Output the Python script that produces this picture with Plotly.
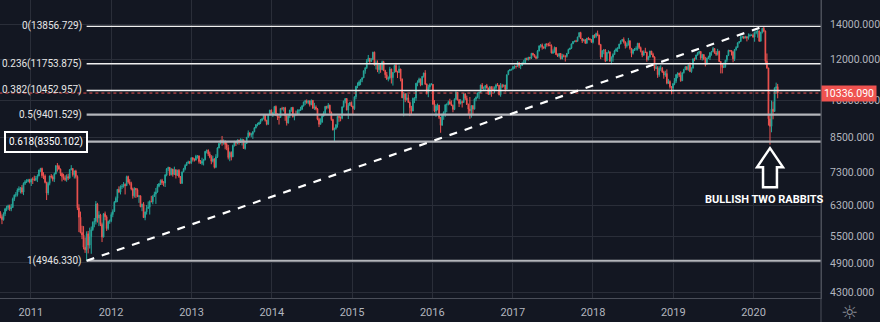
import numpy as np
import pandas as pd
import plotly.graph_objects as go

# ---------------- weekly OHLC (open = previous week's close) ----------------
first_open = 6110

week_start = {
    2010: "2010-08-16", 2011: "2011-01-03", 2012: "2012-01-02", 2013: "2013-01-07",
    2014: "2014-01-06", 2015: "2015-01-05", 2016: "2016-01-04", 2017: "2017-01-02",
    2018: "2018-01-01", 2019: "2019-01-07", 2020: "2020-01-06",
}

close_2010 = [6005, 5925, 6080, 6210, 6250, 6300, 6210, 6250, 6490, 6600, 6610, 6750, 6780, 6820, 6690, 6950, 7000, 7010, 7060, 6990]
high_2010 = [6150, 6060, 6120, 6240, 6300, 6330, 6330, 6350, 6530, 6620, 6690, 6800, 6860, 6840, 6900, 6980, 7050, 7080, 7090, 7090]
low_2010 = [5960, 5810, 5900, 6020, 6150, 6180, 6160, 6150, 6240, 6430, 6540, 6560, 6690, 6650, 6640, 6600, 6900, 6960, 6980, 6950]

close_2011 = [7080, 7075, 7060, 7100, 7180, 7370, 7420, 7190, 7180, 6980, 6660, 6950, 7180, 7150, 7080, 7250, 7510, 7490, 7400, 7260, 7160, 7110, 7070, 7160, 7120, 7380, 7420, 7220, 7340, 7160, 6240, 5990, 5600, 5540, 5250, 5190, 5570, 5300, 5500, 5670, 5860, 5880, 6350, 5970, 6050, 5800, 5490, 6080, 6000, 5700, 5880, 5900]
high_2011 = [7100, 7140, 7190, 7180, 7230, 7380, 7440, 7450, 7300, 7230, 7000, 7000, 7190, 7240, 7200, 7290, 7530, 7600, 7540, 7420, 7290, 7250, 7200, 7230, 7250, 7400, 7530, 7430, 7350, 7380, 7200, 6340, 6140, 5770, 5760, 5480, 5630, 5640, 5720, 5750, 5880, 5970, 6430, 6380, 6150, 6080, 5850, 6100, 6140, 6040, 5900, 5930]
low_2011 = [6870, 6930, 7020, 7020, 6990, 7170, 7310, 7120, 7080, 6950, 6460, 6600, 6890, 7100, 7010, 6990, 7230, 7320, 7380, 7180, 7010, 7060, 7020, 7000, 7050, 7090, 7360, 7160, 7100, 7100, 6180, 5610, 5580, 5440, 5200, 5120, 4946.33, 5110, 5220, 5100, 5640, 5730, 5800, 5850, 5760, 5760, 5370, 5480, 5910, 5640, 5660, 5820]

close_2012 = [6060, 6140, 6400, 6510, 6770, 6690, 6850, 6860, 6920, 6880, 7160, 6990, 6950, 6780, 6580, 6800, 6760, 6560, 6580, 6270, 6340, 5980, 6130, 6230, 6260, 6420, 6410, 6560, 6630, 6690, 6860, 6940, 7040, 6970, 6960, 7210, 7410, 7450, 7220, 7400, 7230, 7380, 7200, 7360, 7160, 6950, 7310, 7410, 7520, 7590, 7640, 7610, 7780]
high_2012 = [6120, 6200, 6430, 6560, 6780, 6860, 6890, 6930, 6990, 6950, 7190, 7190, 7080, 7000, 6820, 6830, 6810, 6800, 6600, 6590, 6360, 6400, 6140, 6320, 6420, 6450, 6580, 6600, 6700, 6810, 6930, 6960, 7070, 7090, 7020, 7240, 7430, 7480, 7470, 7430, 7410, 7480, 7390, 7380, 7400, 7180, 7320, 7440, 7560, 7640, 7680, 7670, 7790]
low_2012 = [5860, 5990, 6130, 6390, 6400, 6660, 6620, 6780, 6820, 6620, 6870, 6940, 6890, 6740, 6500, 6530, 6520, 6540, 6380, 6260, 6150, 5970, 5910, 6060, 6210, 6060, 6400, 6340, 6550, 6350, 6670, 6830, 6900, 6900, 6860, 6840, 7170, 7330, 7180, 7200, 7160, 7210, 7100, 7180, 7120, 6940, 6940, 7300, 7360, 7510, 7580, 7560, 7570]

close_2013 = [7720, 7700, 7830, 7840, 7650, 7590, 7660, 7710, 8000, 8040, 7910, 7800, 7660, 7740, 7460, 7810, 8120, 8280, 8400, 8310, 8350, 8250, 8130, 7790, 7960, 7810, 8210, 8330, 8300, 8410, 8340, 8380, 8420, 8100, 8280, 8510, 8680, 8600, 8620, 8720, 8870, 9000, 9010, 9080, 9170, 9230, 9400, 9170, 9010, 9400, 9590, 9430]
high_2013 = [7790, 7760, 7880, 7870, 7860, 7700, 7780, 7740, 8010, 8060, 8070, 7990, 7870, 7850, 7760, 7900, 8150, 8300, 8410, 8560, 8430, 8400, 8340, 8230, 8000, 8000, 8240, 8380, 8350, 8430, 8420, 8470, 8460, 8430, 8330, 8520, 8770, 8690, 8680, 8740, 8900, 9010, 9070, 9110, 9220, 9250, 9420, 9420, 9190, 9410, 9600, 9620]
low_2013 = [7650, 7650, 7680, 7750, 7580, 7570, 7530, 7520, 7690, 7930, 7840, 7760, 7560, 7620, 7420, 7430, 7770, 8110, 8250, 8200, 8240, 8070, 8040, 7720, 7660, 7690, 7800, 8170, 8190, 8250, 8240, 8300, 8210, 8090, 8060, 8270, 8490, 8540, 8510, 8450, 8700, 8850, 8930, 8980, 9020, 9130, 9210, 9120, 8970, 8990, 9390, 9390]

close_2014 = [9470, 9740, 9390, 9310, 9290, 9660, 9650, 9690, 9350, 9060, 9340, 9590, 9700, 9320, 9410, 9400, 9560, 9580, 9630, 9770, 9940, 9990, 9910, 9990, 9820, 10010, 9670, 9720, 9640, 9210, 9010, 9090, 9340, 9470, 9750, 9690, 9800, 9490, 9200, 8790, 8850, 8990, 9330, 9290, 9250, 9730, 9980, 10090, 9590, 9790, 9920, 9760]
high_2014 = [9520, 9770, 9790, 9450, 9340, 9680, 9730, 9720, 9730, 9400, 9380, 9600, 9720, 9730, 9440, 9570, 9620, 9630, 9730, 9800, 9950, 10030, 10050, 10010, 10000, 10050, 10020, 9900, 9790, 9680, 9270, 9250, 9380, 9540, 9760, 9770, 9890, 9820, 9530, 9230, 8880, 9020, 9350, 9360, 9330, 9740, 9990, 10100, 10110, 9890, 9940, 9960]
low_2014 = [9300, 9450, 9350, 9180, 9000, 9270, 9580, 9530, 9150, 8960, 9040, 9260, 9520, 9280, 9170, 9360, 9380, 9420, 9560, 9590, 9740, 9800, 9860, 9840, 9740, 9800, 9640, 9600, 9580, 9170, 8900, 9000, 9080, 9320, 9400, 9620, 9650, 9440, 9150, 8770, 8355, 8800, 8880, 9110, 9130, 9210, 9700, 9880, 9580, 9220, 9780, 9720]

close_2015 = [9650, 10170, 10650, 10690, 10850, 10960, 11050, 11400, 11550, 11900, 12040, 11870, 11970, 12370, 11690, 11810, 11450, 11710, 11450, 11860, 11410, 11200, 11000, 11040, 11490, 11060, 11320, 11670, 11350, 11310, 11490, 10990, 10120, 10300, 10040, 10120, 9920, 9690, 9550, 10100, 10110, 10790, 10850, 10990, 10710, 11120, 11290, 10750, 10340, 10610, 10730, 10740]
high_2015 = [9770, 10190, 10660, 10830, 10920, 10990, 11080, 11410, 11570, 12000, 12220, 12050, 12050, 12390, 12400, 11930, 11930, 11730, 11740, 11920, 11910, 11450, 11340, 11120, 11600, 11500, 11330, 11710, 11800, 11400, 11670, 11500, 11020, 10380, 10330, 10330, 10280, 9960, 9770, 10130, 10140, 10800, 10930, 11060, 11020, 11130, 11300, 11430, 10780, 10720, 10790, 10800]
low_2015 = [9380, 9600, 10060, 10560, 10670, 10700, 10840, 11040, 11250, 11490, 11860, 11780, 11850, 11960, 11660, 11470, 11330, 11250, 11300, 11430, 11380, 11040, 10950, 10880, 10970, 10780, 10680, 11310, 11330, 11040, 11300, 10880, 10110, 9330, 9930, 10000, 9900, 9340, 9390, 9540, 9890, 9990, 10650, 10800, 10650, 10700, 11060, 10710, 10270, 10150, 10500, 10690]

close_2016 = [9850, 9550, 9760, 9800, 9290, 8970, 9390, 9510, 9820, 9830, 9950, 9850, 9790, 9620, 10050, 10370, 10040, 9870, 9950, 9920, 10290, 10100, 9830, 9630, 9560, 9780, 9630, 10070, 10150, 10340, 10370, 10710, 10540, 10590, 10680, 10570, 10280, 10630, 10510, 10490, 10580, 10710, 10700, 10260, 10670, 10660, 10700, 10510, 11200, 11400, 11450, 11480]
high_2016 = [10750, 10020, 9830, 9870, 9810, 9300, 9450, 9530, 9830, 9880, 10000, 10080, 10010, 9820, 10100, 10420, 10380, 10060, 10060, 10000, 10330, 10330, 10220, 9870, 10160, 9800, 9800, 10100, 10180, 10350, 10400, 10720, 10800, 10640, 10700, 10760, 10580, 10660, 10640, 10650, 10640, 10770, 10800, 10710, 10800, 10760, 10730, 10720, 11210, 11430, 11490, 11490]
low_2016 = [9810, 9500, 9310, 9580, 9220, 8680, 8960, 9190, 9310, 9500, 9790, 9820, 9760, 9500, 9590, 10030, 10000, 9720, 9830, 9700, 9900, 10020, 9810, 9400, 9230, 9280, 9370, 9620, 9970, 10100, 10060, 10340, 10520, 10430, 10480, 10550, 10260, 10270, 10170, 10440, 10330, 10450, 10650, 10230, 10170, 10570, 10600, 10400, 10500, 11190, 11380, 11410]

close_2017 = [11600, 11630, 11620, 11810, 11650, 11670, 11760, 11800, 12030, 11960, 12100, 12060, 12310, 12230, 12110, 12050, 12440, 12720, 12770, 12640, 12600, 12820, 12810, 12750, 12730, 12330, 12390, 12630, 12240, 12160, 12300, 12010, 12170, 12160, 12140, 12300, 12520, 12590, 12830, 12960, 12990, 12980, 13220, 13480, 13130, 13000, 13060, 12860, 13150, 13100, 13070, 12920]
high_2017 = [11640, 11670, 11650, 11890, 11830, 11700, 11860, 11960, 12070, 12080, 12110, 12110, 12320, 12330, 12260, 12180, 12490, 12730, 12820, 12850, 12690, 12840, 12860, 12890, 12950, 12800, 12520, 12680, 12640, 12300, 12310, 12320, 12280, 12250, 12200, 12330, 12560, 12610, 12840, 12990, 13000, 13060, 13240, 13490, 13530, 13150, 13120, 13110, 13170, 13230, 13160, 13090]
low_2017 = [11460, 11500, 11510, 11600, 11540, 11480, 11650, 11750, 11790, 11940, 11930, 11970, 12000, 12180, 12090, 11990, 12040, 12410, 12620, 12510, 12560, 12530, 12670, 12690, 12700, 12300, 12270, 12340, 12220, 12110, 12080, 11990, 11990, 12090, 11870, 12080, 12290, 12500, 12540, 12820, 12920, 12920, 12950, 13220, 13110, 12880, 12980, 12850, 12850, 13040, 13030, 12900]

close_2018 = [13320, 13250, 13430, 13340, 12790, 12110, 12450, 12480, 11910, 12350, 12390, 11890, 12100, 12240, 12440, 12540, 12580, 12820, 13000, 13080, 12940, 12720, 12770, 13010, 12580, 12310, 12500, 12540, 12560, 12860, 12620, 12420, 12210, 12390, 12360, 11960, 12120, 12430, 12250, 12110, 11520, 11550, 11200, 11520, 11530, 11340, 11190, 11260, 10790, 10870, 10630, 10560, 10770]
high_2018 = [13340, 13380, 13480, 13600, 13350, 12830, 12480, 12540, 12540, 12380, 12480, 12400, 12140, 12310, 12500, 12610, 12640, 12830, 13030, 13110, 13200, 12980, 12900, 13170, 13020, 12600, 12540, 12600, 12690, 12890, 12890, 12680, 12450, 12470, 12610, 12400, 12170, 12450, 12440, 12340, 12150, 11750, 11630, 11630, 11680, 11590, 11400, 11400, 11470, 11000, 10930, 10660, 10800]
low_2018 = [12850, 13150, 13160, 13270, 12750, 12000, 12100, 12260, 11840, 11890, 12300, 11860, 11730, 11860, 12230, 12390, 12380, 12540, 12810, 12960, 12850, 12570, 12620, 12740, 12500, 12100, 12240, 12430, 12450, 12460, 12540, 12360, 12100, 12180, 12330, 11860, 11940, 12070, 12220, 12080, 11400, 11480, 11050, 11100, 11400, 11290, 11010, 11100, 10740, 10760, 10540, 10280, 10390]

close_2019 = [10890, 11210, 11280, 11180, 10910, 11300, 11460, 11600, 11460, 11690, 11360, 11530, 12010, 12000, 12220, 12320, 12410, 12060, 12240, 12010, 11730, 12050, 12100, 12340, 12400, 12570, 12320, 12260, 12420, 11870, 11690, 11560, 11610, 11940, 12190, 12470, 12460, 12380, 12010, 12510, 12630, 12890, 12960, 13230, 13240, 13160, 13240, 13170, 13280, 13320, 13340, 13220]
high_2019 = [11040, 11230, 11320, 11300, 11370, 11320, 11500, 11630, 11640, 11720, 11820, 11570, 12040, 12080, 12230, 12380, 12440, 12420, 12280, 12250, 12120, 12070, 12180, 12380, 12440, 12660, 12590, 12430, 12550, 12450, 11900, 11750, 11820, 11960, 12200, 12500, 12480, 12470, 12440, 12540, 12700, 12910, 12990, 13300, 13300, 13290, 13290, 13250, 13430, 13420, 13360, 13430]
low_2019 = [10700, 10800, 11030, 11090, 10860, 10900, 11260, 11430, 11420, 11400, 11330, 11300, 11520, 11890, 11970, 12180, 12250, 11960, 11920, 11940, 11620, 11720, 12000, 11950, 12180, 12390, 12290, 12170, 12190, 11850, 11270, 11270, 11540, 11550, 11830, 12160, 12370, 12190, 11830, 11900, 12450, 12610, 12850, 12950, 13140, 13100, 13150, 12970, 13070, 13250, 13280, 13180]

close_2020 = [13480, 13530, 13580, 12980, 13510, 13740, 13580, 11890, 11540, 9230, 8930, 9630, 9530, 10560, 10630, 10336.09]
high_2020 = [13550, 13600, 13640, 13600, 13520, 13760, 13856.729, 13600, 12300, 11550, 9400, 10000, 9960, 10600, 10820, 10760]
low_2020 = [12950, 13380, 13180, 12950, 12970, 13430, 13500, 11720, 11500, 8960, 8240, 8700, 9210, 9520, 10300, 10100]

# Fibonacci retracement between the 2011 low and the 2020 high
fib_ratio = [0, 0.236, 0.382, 0.5, 0.618, 1]
fib_price = [13856.729, 11753.875, 10452.957, 9401.529, 8350.102, 4946.330]

y_ticks = [4300, 4900, 5500, 6300, 7300, 8500, 10000, 12000, 14000]
x_years = list(range(2011, 2021))

# ---------------- assemble series ----------------
by_year = [
    (2010, close_2010, high_2010, low_2010), (2011, close_2011, high_2011, low_2011),
    (2012, close_2012, high_2012, low_2012), (2013, close_2013, high_2013, low_2013),
    (2014, close_2014, high_2014, low_2014), (2015, close_2015, high_2015, low_2015),
    (2016, close_2016, high_2016, low_2016), (2017, close_2017, high_2017, low_2017),
    (2018, close_2018, high_2018, low_2018), (2019, close_2019, high_2019, low_2019),
    (2020, close_2020, high_2020, low_2020),
]
dates, closes, highs, lows = [], [], [], []
for yr, c, h, l in by_year:
    dates += list(pd.date_range(week_start[yr], periods=len(c), freq="7D"))
    closes += c
    highs += h
    lows += l
opens = [first_open] + closes[:-1]

i_low = int(np.argmin(lows))
i_high = int(np.argmax(highs))
low_date, high_date = dates[i_low], dates[i_high]
last_close = closes[-1]

# ---------------- geometry / colours ----------------
BG = "#131722"
GRID = "#2a2e39"
AXIS_TXT = "#b2b5be"
UP, DOWN = "#26a69a", "#ef5350"
FONT = "Roboto"

PLOT_W, PLOT_H = 826, 298
x_lo, x_hi = pd.Timestamp("2010-08-14"), pd.Timestamp("2020-11-03")
y_lo, y_hi = 3.62324, 4.19193
far_right = pd.Timestamp("2021-06-01")


def px_x(d):
    return (pd.Timestamp(d) - x_lo) / (x_hi - x_lo) * PLOT_W


def px_y(p):
    return (y_hi - np.log10(p)) / (y_hi - y_lo) * PLOT_H


def paper(px, py):
    return px / PLOT_W, 1 - py / PLOT_H


fig = go.Figure()

fig.add_trace(go.Candlestick(
    x=dates, open=opens, high=highs, low=lows, close=closes,
    increasing=dict(line=dict(color=UP, width=1), fillcolor=UP),
    decreasing=dict(line=dict(color=DOWN, width=1), fillcolor=DOWN),
    whiskerwidth=0, hoverinfo="skip", showlegend=False,
))

# last price line
fig.add_trace(go.Scatter(
    x=[x_lo - pd.Timedelta(days=30), far_right], y=[last_close, last_close],
    mode="lines", line=dict(color=DOWN, width=1, dash="dot"),
    hoverinfo="skip", showlegend=False,
))

# fib levels
for r, p in zip(fib_ratio, fib_price):
    bright = r < 0.45
    fig.add_trace(go.Scatter(
        x=[low_date, far_right], y=[p, p], mode="lines",
        line=dict(color="#f0f0f0" if bright else "#b4b6bb", width=1.4 if bright else 2.2),
        hoverinfo="skip", showlegend=False,
    ))

# trend line from the swing low to the swing high
fig.add_trace(go.Scatter(
    x=[low_date, high_date], y=[lows[i_low], highs[i_high]], mode="lines",
    line=dict(color="#ffffff", width=2.2, dash="8px,8px"),
    hoverinfo="skip", showlegend=False,
))

annotations = []
for r, p in zip(fib_ratio, fib_price):
    boxed = abs(r - 0.618) < 1e-9
    a = dict(
        x=low_date, xref="x", y=np.log10(p), yref="y",
        text=f"{r:g}({p:.3f})", showarrow=False,
        xanchor="right", yanchor="middle",
        font=dict(family=FONT, size=10, color="#e6e6e6" if not boxed else "#ffffff"),
        xshift=-3,
    )
    if boxed:
        a.update(bordercolor="#ffffff", borderwidth=2, borderpad=3, xshift=1)
    annotations.append(a)

# last price tag on the axis
annotations.append(dict(
    x=1, xref="paper", y=np.log10(last_close), yref="y",
    text=f"{last_close:.3f}", showarrow=False, xanchor="left", yanchor="middle",
    bgcolor=DOWN, width=54, height=15, borderpad=0,
    font=dict(family=FONT, size=10.5, color="#ffffff"),
))

# arrow pointing at the March 2020 bottom
i_bottom = len(lows) - len(low_2020) + int(np.argmin(low_2020))
cx = px_x(dates[i_bottom])
tip = px_y(lows[i_bottom]) + 3.5
pts = [(cx, tip), (cx + 13, tip + 19), (cx + 7, tip + 19), (cx + 7, tip + 39),
       (cx - 7, tip + 39), (cx - 7, tip + 19), (cx - 13, tip + 19)]
path = "M " + " L ".join(f"{paper(x, y)[0]:.5f},{paper(x, y)[1]:.5f}" for x, y in pts) + " Z"

shapes = [
    dict(type="path", path=path, xref="paper", yref="paper",
         line=dict(color="#ffffff", width=2.5), fillcolor=BG, layer="above"),
    dict(type="line", xref="paper", yref="paper", x0=1, x1=1, y0=-24 / PLOT_H, y1=1,
         line=dict(color="#4a4e59", width=1)),
]

tx, ty = paper(cx - 6, tip + 51)
annotations.append(dict(
    x=tx, y=ty, xref="paper", yref="paper", text="<b>BULLISH TWO RABBITS</b>",
    showarrow=False, xanchor="center", yanchor="middle",
    font=dict(family=FONT, size=11, color="#ffffff"),
))

# settings glyph in the axis corner
gx, gy = paper(855, 312)
annotations.append(dict(
    x=gx, y=gy, xref="paper", yref="paper", text="☼", showarrow=False,
    xanchor="center", yanchor="middle",
    font=dict(family="DejaVu Sans", size=19, color="#8a8d96"),
))

fig.update_layout(
    width=880, height=322,
    margin=dict(l=0, r=54, t=0, b=24),
    paper_bgcolor=BG, plot_bgcolor=BG,
    showlegend=False, boxgap=0.35,
    annotations=annotations, shapes=shapes,
    font=dict(family=FONT, color=AXIS_TXT),
    xaxis=dict(
        type="date", range=[x_lo, x_hi], rangeslider=dict(visible=False),
        tickvals=[pd.Timestamp(f"{y}-01-01") for y in x_years],
        ticktext=[str(y) for y in x_years],
        showgrid=True, gridcolor=GRID, gridwidth=1, zeroline=False,
        showline=True, linecolor="#4a4e59", linewidth=1,
        ticks="", tickfont=dict(family=FONT, size=11, color=AXIS_TXT),
        ticklabelstandoff=4,
    ),
    yaxis=dict(
        type="log", side="right", range=[y_lo, y_hi],
        tickvals=y_ticks, ticktext=[f"{v}.000" for v in y_ticks],
        showgrid=True, gridcolor=GRID, gridwidth=1, zeroline=False,
        showline=True, linecolor="#4a4e59", linewidth=1,
        ticks="", tickfont=dict(family=FONT, size=10.5, color=AXIS_TXT),
        ticklabelstandoff=6,
    ),
)

fig.write_html("out.html")
